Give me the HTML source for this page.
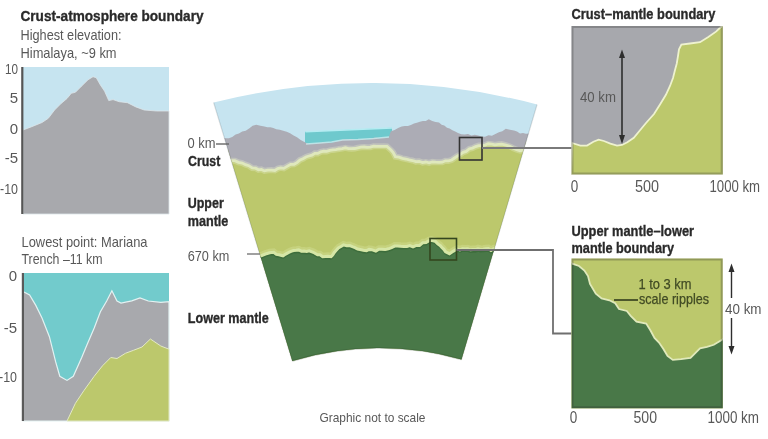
<!DOCTYPE html>
<html><head><meta charset="utf-8">
<style>
html,body{margin:0;padding:0;background:#fff;width:768px;height:439px;overflow:hidden}
svg{display:block;filter:blur(0.5px)}
text{font-family:"Liberation Sans",sans-serif}
.b{font-weight:bold;fill:#2a2a2a;stroke:#2a2a2a;stroke-width:0.35px}
.r{fill:#585858}
</style></head><body>
<svg width="768" height="439" viewBox="0 0 768 439">
<defs>
<clipPath id="wedge"><path d="M213.6,102.5 A650,650 0 0 1 537.1,104.5 L461.5,359.5 A300,300 0 0 0 292.3,361 Z"/></clipPath>
<clipPath id="trc"><rect x="571.5" y="26" width="151.2" height="148.5"/></clipPath>
<clipPath id="brc"><rect x="571.5" y="258.5" width="151.2" height="149.8"/></clipPath>
</defs>

<!-- ===== Top-left chart ===== -->
<text class="b" x="20.5" y="20.5" font-size="15" textLength="183" lengthAdjust="spacingAndGlyphs">Crust-atmosphere boundary</text>
<text class="r" x="20.5" y="39.5" font-size="15" textLength="101" lengthAdjust="spacingAndGlyphs">Highest elevation:</text>
<text class="r" x="20.5" y="57.5" font-size="15" textLength="96" lengthAdjust="spacingAndGlyphs">Himalaya, ~9 km</text>
<g class="r" font-size="15" text-anchor="end">
<text x="18" y="74" textLength="13" lengthAdjust="spacingAndGlyphs">10</text>
<text x="18" y="102.5">5</text>
<text x="18" y="133.5">0</text>
<text x="18" y="163">-5</text>
<text x="18" y="193.5" textLength="18" lengthAdjust="spacingAndGlyphs">-10</text>
</g>
<rect x="23" y="67" width="146" height="147" fill="#c6e4f0"/>
<path d="M23,130 L31.7,126.7 L42,122.5 L48.3,118.3 L54.6,110 L60.8,103.75 L67,98.5 L71.25,93.3 L75.4,92.3 L81.7,86 L88,79.8 L93,76.7 L96.25,77.7 L100.4,85 L104.6,91.25 L108.75,100.6 L113,99.6 L119.2,101.7 L127.5,102.7 L135.8,106.9 L144.2,110 L156.7,111 L169,111 L169,214 L23,214 Z" fill="#a8a9ad" stroke="#dde6ea" stroke-width="0.8"/>
<rect x="21.2" y="67" width="2.2" height="147" fill="#555"/>

<!-- ===== Bottom-left chart ===== -->
<text class="r" x="21.5" y="247" font-size="15" textLength="126" lengthAdjust="spacingAndGlyphs">Lowest point: Mariana</text>
<text class="r" x="21.5" y="263.5" font-size="15" textLength="81" lengthAdjust="spacingAndGlyphs">Trench –11 km</text>
<g class="r" font-size="15" text-anchor="end">
<text x="17" y="281.2">0</text>
<text x="17" y="333">-5</text>
<text x="17" y="381.5" textLength="18" lengthAdjust="spacingAndGlyphs">-10</text>
</g>
<rect x="23" y="273" width="146" height="148" fill="#72cbcc"/>
<path d="M23,291.5 L29.6,295 L35.8,305.4 L42,318 L49.4,336.7 L55.6,361.7 L59.8,376.25 L67,380.4 L73.3,376.25 L81.7,357.5 L86.9,345 L94.2,328 L100.4,311.7 L106.7,301 L111.9,290.8 L117,301 L121,303 L131.7,300.8 L140,298 L148.3,301 L160.8,302.3 L169,301.7 L169,421 L23,421 Z" fill="#a8a9ad" stroke="#e3f2f2" stroke-width="1.2"/>
<path d="M67,421 L75.4,403.3 L83.75,390.8 L94.2,376.25 L102.5,365.8 L110.8,357.5 L117,358.5 L125.4,353.3 L133.75,350.2 L142,347 L150.4,339 L160.8,346 L169,349.2 L169,421 Z" fill="#bcc86c" stroke="#e3e9c4" stroke-width="1"/>
<rect x="21.8" y="273" width="2.2" height="148" fill="#5a5a5a"/>

<!-- ===== Central wedge ===== -->
<g clip-path="url(#wedge)">
<rect x="200" y="70" width="350" height="300" fill="#c6e4f0"/>
<path d="M305,131.8 L392,127.8 L392,150 L305,150 Z" fill="#6ec9cd"/><path d="M305.5,131.8 L392,128" stroke="#b5ecf2" stroke-width="1.6"/>
<path d="M200,150 L550,140 L550,370 L200,370 Z" fill="#bcc86c"/>
<path d="M200.0,138.5 L203.2,138.4 L206.4,138.5 L209.6,139.0 L212.8,138.3 L216.1,138.3 L219.3,138.4 L222.5,137.7 L225.7,138.2 L228.9,138.3 L232.2,137.0 L235.6,134.6 L238.9,133.4 L242.2,131.6 L245.7,130.7 L249.1,128.5 L252.6,125.7 L256.3,124.7 L260.4,125.8 L264.4,126.5 L267.4,127.2 L270.4,127.3 L273.3,127.9 L276.3,129.3 L279.8,129.7 L283.2,130.8 L286.7,131.8 L290.1,133.3 L293.6,135.6 L297.0,137.3 L300.7,140.1 L304.4,141.9 L309.0,144.2 L312.7,143.7 L316.3,143.6 L320.0,142.9 L323.8,142.4 L327.7,143.0 L331.5,142.7 L335.2,141.8 L338.8,141.0 L342.5,139.7 L345.6,139.5 L348.7,139.5 L351.8,139.1 L354.9,140.0 L358.0,139.4 L361.1,139.8 L364.3,138.9 L367.4,139.5 L370.6,139.2 L373.8,137.8 L376.8,137.8 L379.9,138.5 L382.9,137.6 L385.9,138.0 L389.0,136.9 L390.0,133.4 L391.0,131.2 L394.6,130.1 L398.1,128.0 L401.7,126.4 L404.8,126.0 L407.9,126.1 L410.9,125.1 L414.0,123.5 L416.9,122.8 L419.9,121.8 L422.9,120.9 L425.8,121.1 L428.8,119.3 L432.2,120.9 L435.6,121.9 L439.0,122.6 L441.6,124.8 L444.3,125.5 L447.0,127.7 L449.6,128.5 L452.4,130.3 L455.2,131.5 L458.0,133.0 L461.3,134.3 L464.7,134.5 L468.0,134.1 L471.4,135.4 L474.8,134.8 L478.2,135.5 L481.6,136.6 L485.0,136.7 L488.5,135.2 L491.9,135.8 L495.4,134.0 L498.9,132.3 L502.3,131.2 L505.8,128.8 L509.9,129.7 L514.0,130.4 L517.0,131.6 L520.0,133.4 L523.0,133.1 L526.0,133.8 L529.0,133.6 L532.0,133.9 L535.0,134.8 L538.0,134.3 L541.0,134.6 L544.0,135.2 L547.0,134.4 L550.0,135.0 L550.0,151.0 L547.0,150.9 L544.0,150.8 L541.0,150.3 L538.0,150.8 L535.0,151.0 L532.0,150.8 L529.0,150.1 L526.0,149.5 L523.0,150.1 L520.0,150.7 L516.7,149.7 L513.3,148.2 L510.0,146.4 L505.9,145.1 L501.7,144.1 L498.4,144.3 L495.0,144.9 L491.7,144.2 L488.3,143.8 L485.0,145.1 L481.9,145.6 L478.8,145.6 L475.6,146.6 L472.5,148.1 L469.4,148.7 L466.2,151.4 L463.1,152.3 L460.0,154.6 L457.2,156.1 L454.5,158.0 L451.7,160.0 L448.5,160.9 L445.4,160.8 L442.2,162.2 L439.0,162.3 L435.7,162.2 L432.4,161.9 L429.1,162.8 L425.8,162.0 L422.5,162.6 L419.2,161.3 L415.8,161.6 L412.5,160.5 L409.1,159.9 L405.8,159.0 L402.3,158.4 L398.9,157.2 L395.4,156.7 L393.2,152.5 L391.0,150.0 L387.0,146.4 L383.5,146.3 L380.0,146.3 L376.8,146.3 L373.6,146.2 L370.4,147.2 L367.2,147.3 L364.0,147.0 L360.9,147.2 L357.9,147.8 L354.8,148.5 L351.7,148.7 L348.5,148.6 L345.4,147.8 L342.2,148.6 L339.0,149.0 L335.9,149.6 L332.9,149.9 L329.8,150.4 L326.7,151.4 L323.7,151.2 L320.8,151.8 L317.8,153.4 L314.8,153.3 L311.9,155.2 L308.9,156.0 L305.9,157.0 L303.0,158.7 L300.0,159.9 L297.0,162.6 L294.0,164.3 L290.6,164.4 L287.1,166.4 L283.7,168.4 L280.7,167.9 L277.8,168.6 L274.8,170.5 L271.3,170.1 L267.9,170.2 L264.4,170.9 L261.4,169.4 L258.5,169.8 L255.5,168.2 L252.2,168.0 L248.8,165.7 L245.5,164.7 L242.2,163.0 L238.5,162.3 L234.8,160.7 L231.6,160.7 L228.5,160.8 L225.3,160.9 L222.1,160.1 L219.0,160.2 L215.8,159.6 L212.7,159.7 L209.5,160.4 L206.3,160.3 L203.2,160.0 L200.0,160.0 Z" fill="#acacb5"/>
<path d="M306,144 L320,143 L331.5,142 L342.5,140 L358,139.5 L373.75,138.5 L389,137" fill="none" stroke="#d2eef0" stroke-width="1.4" opacity="0.75"/>
<path d="M200.0,160.0 L203.2,160.0 L206.3,160.3 L209.5,160.4 L212.7,159.7 L215.8,159.6 L219.0,160.2 L222.1,160.1 L225.3,160.9 L228.5,160.8 L231.6,160.7 L234.8,160.7 L238.5,162.3 L242.2,163.0 L245.5,164.7 L248.8,165.7 L252.2,168.0 L255.5,168.2 L258.5,169.8 L261.4,169.4 L264.4,170.9 L267.9,170.2 L271.3,170.1 L274.8,170.5 L277.8,168.6 L280.7,167.9 L283.7,168.4 L287.1,166.4 L290.6,164.4 L294.0,164.3 L297.0,162.6 L300.0,159.9 L303.0,158.7 L305.9,157.0 L308.9,156.0 L311.9,155.2 L314.8,153.3 L317.8,153.4 L320.8,151.8 L323.7,151.2 L326.7,151.4 L329.8,150.4 L332.9,149.9 L335.9,149.6 L339.0,149.0 L342.2,148.6 L345.4,147.8 L348.5,148.6 L351.7,148.7 L354.8,148.5 L357.9,147.8 L360.9,147.2 L364.0,147.0 L367.2,147.3 L370.4,147.2 L373.6,146.2 L376.8,146.3 L380.0,146.3 L383.5,146.3 L387.0,146.4 L391.0,150.0 L393.2,152.5 L395.4,156.7 L398.9,157.2 L402.3,158.4 L405.8,159.0 L409.1,159.9 L412.5,160.5 L415.8,161.6 L419.2,161.3 L422.5,162.6 L425.8,162.0 L429.1,162.8 L432.4,161.9 L435.7,162.2 L439.0,162.3 L442.2,162.2 L445.4,160.8 L448.5,160.9 L451.7,160.0 L454.5,158.0 L457.2,156.1 L460.0,154.6 L463.1,152.3 L466.2,151.4 L469.4,148.7 L472.5,148.1 L475.6,146.6 L478.8,145.6 L481.9,145.6 L485.0,145.1 L488.3,143.8 L491.7,144.2 L495.0,144.9 L498.4,144.3 L501.7,144.1 L505.9,145.1 L510.0,146.4 L513.3,148.2 L516.7,149.7 L520.0,150.7 L523.0,150.1 L526.0,149.5 L529.0,150.1 L532.0,150.8 L535.0,151.0 L538.0,150.8 L541.0,150.3 L544.0,150.8 L547.0,150.9 L550.0,151.0" fill="none" stroke="#e6ecc8" stroke-width="6" opacity="0.35"/>
<path d="M200.0,160.0 L203.2,160.0 L206.3,160.3 L209.5,160.4 L212.7,159.7 L215.8,159.6 L219.0,160.2 L222.1,160.1 L225.3,160.9 L228.5,160.8 L231.6,160.7 L234.8,160.7 L238.5,162.3 L242.2,163.0 L245.5,164.7 L248.8,165.7 L252.2,168.0 L255.5,168.2 L258.5,169.8 L261.4,169.4 L264.4,170.9 L267.9,170.2 L271.3,170.1 L274.8,170.5 L277.8,168.6 L280.7,167.9 L283.7,168.4 L287.1,166.4 L290.6,164.4 L294.0,164.3 L297.0,162.6 L300.0,159.9 L303.0,158.7 L305.9,157.0 L308.9,156.0 L311.9,155.2 L314.8,153.3 L317.8,153.4 L320.8,151.8 L323.7,151.2 L326.7,151.4 L329.8,150.4 L332.9,149.9 L335.9,149.6 L339.0,149.0 L342.2,148.6 L345.4,147.8 L348.5,148.6 L351.7,148.7 L354.8,148.5 L357.9,147.8 L360.9,147.2 L364.0,147.0 L367.2,147.3 L370.4,147.2 L373.6,146.2 L376.8,146.3 L380.0,146.3 L383.5,146.3 L387.0,146.4 L391.0,150.0 L393.2,152.5 L395.4,156.7 L398.9,157.2 L402.3,158.4 L405.8,159.0 L409.1,159.9 L412.5,160.5 L415.8,161.6 L419.2,161.3 L422.5,162.6 L425.8,162.0 L429.1,162.8 L432.4,161.9 L435.7,162.2 L439.0,162.3 L442.2,162.2 L445.4,160.8 L448.5,160.9 L451.7,160.0 L454.5,158.0 L457.2,156.1 L460.0,154.6 L463.1,152.3 L466.2,151.4 L469.4,148.7 L472.5,148.1 L475.6,146.6 L478.8,145.6 L481.9,145.6 L485.0,145.1 L488.3,143.8 L491.7,144.2 L495.0,144.9 L498.4,144.3 L501.7,144.1 L505.9,145.1 L510.0,146.4 L513.3,148.2 L516.7,149.7 L520.0,150.7 L523.0,150.1 L526.0,149.5 L529.0,150.1 L532.0,150.8 L535.0,151.0 L538.0,150.8 L541.0,150.3 L544.0,150.8 L547.0,150.9 L550.0,151.0" fill="none" stroke="#dfe8bd" stroke-width="2.8"/>
<path d="M200.0,255.5 L202.6,255.1 L205.1,255.8 L207.7,255.8 L210.2,256.1 L212.8,254.9 L215.3,255.0 L217.9,254.8 L220.4,254.9 L223.0,255.8 L225.5,254.8 L228.1,255.5 L230.6,254.9 L233.2,255.0 L235.7,255.3 L238.3,256.0 L240.8,255.6 L243.4,254.5 L245.9,254.9 L248.5,254.7 L251.0,256.0 L253.6,255.9 L256.1,255.9 L258.7,255.9 L261.2,255.7 L265.4,254.0 L269.6,252.7 L273.8,252.3 L276.4,254.4 L279.0,254.8 L283.0,255.8 L285.6,254.1 L288.3,252.6 L290.9,251.4 L293.5,250.5 L296.1,250.3 L298.7,249.9 L301.4,251.2 L304.0,251.1 L306.6,251.5 L309.2,250.9 L313.3,252.3 L317.5,254.7 L320.1,254.7 L322.7,256.7 L325.4,256.5 L328.0,256.3 L331.0,256.7 L332.6,255.1 L334.2,252.5 L336.2,250.2 L338.3,247.9 L340.9,246.5 L343.5,244.9 L346.6,245.8 L349.8,245.6 L352.4,246.7 L355.0,247.7 L357.6,249.0 L360.2,249.5 L363.4,250.3 L366.5,250.6 L369.1,249.4 L371.7,249.7 L375.8,251.1 L378.9,249.2 L382.0,249.2 L385.1,249.6 L388.3,248.8 L391.5,247.7 L394.6,246.1 L397.7,246.0 L400.8,246.3 L403.9,246.5 L406.9,246.5 L409.9,245.6 L413.0,246.9 L416.2,245.4 L419.5,245.4 L422.8,242.7 L426.0,242.5 L428.6,240.9 L431.2,240.2 L435.2,241.2 L437.8,243.9 L440.4,245.7 L442.1,247.7 L443.9,249.3 L445.6,251.9 L449.5,253.7 L453.4,251.1 L457.3,248.9 L459.9,249.8 L462.5,248.8 L465.1,249.0 L467.7,248.7 L470.3,249.8 L472.9,249.6 L475.4,249.6 L478.0,248.7 L480.6,249.4 L483.2,249.2 L485.8,248.8 L488.4,248.6 L491.0,250.4 L493.6,248.8 L496.1,249.1 L498.7,249.1 L501.3,249.7 L503.8,248.7 L506.4,249.4 L509.0,249.3 L511.5,250.1 L514.1,248.6 L516.7,249.2 L519.2,249.5 L521.8,250.3 L524.3,249.5 L526.9,249.5 L529.5,249.8 L532.0,249.1 L534.6,248.7 L537.2,249.5 L539.7,250.2 L542.3,249.9 L544.9,249.1 L547.4,249.8 L550.0,249.5 L550,370 L200,370 Z" fill="#497848"/>
<path d="M200.0,257.5 L202.6,257.1 L205.1,257.8 L207.7,257.8 L210.2,258.1 L212.8,256.9 L215.3,257.0 L217.9,256.8 L220.4,256.9 L223.0,257.8 L225.5,256.8 L228.1,257.5 L230.6,256.9 L233.2,257.0 L235.7,257.3 L238.3,258.0 L240.8,257.6 L243.4,256.5 L245.9,256.9 L248.5,256.7 L251.0,258.0 L253.6,257.9 L256.1,257.9 L258.7,257.9 L261.2,257.7 L265.4,256.0 L269.6,254.7 L273.8,254.3 L276.4,256.4 L279.0,256.8 L283.0,257.8 L285.6,256.1 L288.3,254.6 L290.9,253.4 L293.5,252.5 L296.1,252.3 L298.7,251.9 L301.4,253.2 L304.0,253.1 L306.6,253.5 L309.2,252.9 L313.3,254.3 L317.5,256.7 L320.1,256.7 L322.7,258.7 L325.4,258.5 L328.0,258.3 L331.0,258.7 L332.6,257.1 L334.2,254.5 L336.2,252.2 L338.3,249.9 L340.9,248.5 L343.5,246.9 L346.6,247.8 L349.8,247.6 L352.4,248.7 L355.0,249.7 L357.6,251.0 L360.2,251.5 L363.4,252.3 L366.5,252.6 L369.1,251.4 L371.7,251.7 L375.8,253.1 L378.9,251.2 L382.0,251.2 L385.1,251.6 L388.3,250.8 L391.5,249.7 L394.6,248.1 L397.7,248.0 L400.8,248.3 L403.9,248.5 L406.9,248.5 L409.9,247.6 L413.0,248.9 L416.2,247.4 L419.5,247.4 L422.8,244.7 L426.0,244.5 L428.6,242.9 L431.2,242.2 L435.2,243.2 L437.8,245.9 L440.4,247.7 L442.1,249.7 L443.9,251.3 L445.6,253.9 L449.5,255.7 L453.4,253.1 L457.3,250.9 L459.9,251.8 L462.5,250.8 L465.1,251.0 L467.7,250.7 L470.3,251.8 L472.9,251.6 L475.4,251.6 L478.0,250.7 L480.6,251.4 L483.2,251.2 L485.8,250.8 L488.4,250.6 L491.0,252.4 L493.6,250.8 L496.1,251.1 L498.7,251.1 L501.3,251.7 L503.8,250.7 L506.4,251.4 L509.0,251.3 L511.5,252.1 L514.1,250.6 L516.7,251.2 L519.2,251.5 L521.8,252.3 L524.3,251.5 L526.9,251.5 L529.5,251.8 L532.0,251.1 L534.6,250.7 L537.2,251.5 L539.7,252.2 L542.3,251.9 L544.9,251.1 L547.4,251.8 L550.0,251.5" fill="none" stroke="#3b6a3a" stroke-width="2.2" opacity="0.8"/>
<path d="M200.0,254.0 L202.6,253.6 L205.1,254.3 L207.7,254.3 L210.2,254.6 L212.8,253.4 L215.3,253.5 L217.9,253.3 L220.4,253.4 L223.0,254.3 L225.5,253.3 L228.1,254.0 L230.6,253.4 L233.2,253.5 L235.7,253.8 L238.3,254.5 L240.8,254.1 L243.4,253.0 L245.9,253.4 L248.5,253.2 L251.0,254.5 L253.6,254.4 L256.1,254.4 L258.7,254.4 L261.2,254.2 L265.4,252.5 L269.6,251.2 L273.8,250.8 L276.4,252.9 L279.0,253.3 L283.0,254.3 L285.6,252.6 L288.3,251.1 L290.9,249.9 L293.5,249.0 L296.1,248.8 L298.7,248.4 L301.4,249.7 L304.0,249.6 L306.6,250.0 L309.2,249.4 L313.3,250.8 L317.5,253.2 L320.1,253.2 L322.7,255.2 L325.4,255.0 L328.0,254.8 L331.0,255.2 L332.6,253.6 L334.2,251.0 L336.2,248.7 L338.3,246.4 L340.9,245.0 L343.5,243.4 L346.6,244.3 L349.8,244.1 L352.4,245.2 L355.0,246.2 L357.6,247.5 L360.2,248.0 L363.4,248.8 L366.5,249.1 L369.1,247.9 L371.7,248.2 L375.8,249.6 L378.9,247.7 L382.0,247.7 L385.1,248.1 L388.3,247.3 L391.5,246.2 L394.6,244.6 L397.7,244.5 L400.8,244.8 L403.9,245.0 L406.9,245.0 L409.9,244.1 L413.0,245.4 L416.2,243.9 L419.5,243.9 L422.8,241.2 L426.0,241.0 L428.6,239.4 L431.2,238.7 L435.2,239.7 L437.8,242.4 L440.4,244.2 L442.1,246.2 L443.9,247.8 L445.6,250.4 L449.5,252.2 L453.4,249.6 L457.3,247.4 L459.9,248.3 L462.5,247.3 L465.1,247.5 L467.7,247.2 L470.3,248.3 L472.9,248.1 L475.4,248.1 L478.0,247.2 L480.6,247.9 L483.2,247.7 L485.8,247.3 L488.4,247.1 L491.0,248.9 L493.6,247.3 L496.1,247.6 L498.7,247.6 L501.3,248.2 L503.8,247.2 L506.4,247.9 L509.0,247.8 L511.5,248.6 L514.1,247.1 L516.7,247.7 L519.2,248.0 L521.8,248.8 L524.3,248.0 L526.9,248.0 L529.5,248.3 L532.0,247.6 L534.6,247.2 L537.2,248.0 L539.7,248.7 L542.3,248.4 L544.9,247.6 L547.4,248.3 L550.0,248.0" fill="none" stroke="#d9e4a0" stroke-width="5" opacity="0.35"/>
<path d="M200.0,255.5 L202.6,255.1 L205.1,255.8 L207.7,255.8 L210.2,256.1 L212.8,254.9 L215.3,255.0 L217.9,254.8 L220.4,254.9 L223.0,255.8 L225.5,254.8 L228.1,255.5 L230.6,254.9 L233.2,255.0 L235.7,255.3 L238.3,256.0 L240.8,255.6 L243.4,254.5 L245.9,254.9 L248.5,254.7 L251.0,256.0 L253.6,255.9 L256.1,255.9 L258.7,255.9 L261.2,255.7 L265.4,254.0 L269.6,252.7 L273.8,252.3 L276.4,254.4 L279.0,254.8 L283.0,255.8 L285.6,254.1 L288.3,252.6 L290.9,251.4 L293.5,250.5 L296.1,250.3 L298.7,249.9 L301.4,251.2 L304.0,251.1 L306.6,251.5 L309.2,250.9 L313.3,252.3 L317.5,254.7 L320.1,254.7 L322.7,256.7 L325.4,256.5 L328.0,256.3 L331.0,256.7 L332.6,255.1 L334.2,252.5 L336.2,250.2 L338.3,247.9 L340.9,246.5 L343.5,244.9 L346.6,245.8 L349.8,245.6 L352.4,246.7 L355.0,247.7 L357.6,249.0 L360.2,249.5 L363.4,250.3 L366.5,250.6 L369.1,249.4 L371.7,249.7 L375.8,251.1 L378.9,249.2 L382.0,249.2 L385.1,249.6 L388.3,248.8 L391.5,247.7 L394.6,246.1 L397.7,246.0 L400.8,246.3 L403.9,246.5 L406.9,246.5 L409.9,245.6 L413.0,246.9 L416.2,245.4 L419.5,245.4 L422.8,242.7 L426.0,242.5 L428.6,240.9 L431.2,240.2 L435.2,241.2 L437.8,243.9 L440.4,245.7 L442.1,247.7 L443.9,249.3 L445.6,251.9 L449.5,253.7 L453.4,251.1 L457.3,248.9 L459.9,249.8 L462.5,248.8 L465.1,249.0 L467.7,248.7 L470.3,249.8 L472.9,249.6 L475.4,249.6 L478.0,248.7 L480.6,249.4 L483.2,249.2 L485.8,248.8 L488.4,248.6 L491.0,250.4 L493.6,248.8 L496.1,249.1 L498.7,249.1 L501.3,249.7 L503.8,248.7 L506.4,249.4 L509.0,249.3 L511.5,250.1 L514.1,248.6 L516.7,249.2 L519.2,249.5 L521.8,250.3 L524.3,249.5 L526.9,249.5 L529.5,249.8 L532.0,249.1 L534.6,248.7 L537.2,249.5 L539.7,250.2 L542.3,249.9 L544.9,249.1 L547.4,249.8 L550.0,249.5" fill="none" stroke="#d6e6a6" stroke-width="3"/>
</g>
<path d="M213.6,102.5 L292.3,361 M537.1,104.5 L461.5,359.5" stroke="#000" stroke-opacity="0.12" stroke-width="1.2" fill="none"/><path d="M461.5,359.5 A300,300 0 0 0 292.3,361" stroke="#1e3a1c" stroke-opacity="0.25" stroke-width="1.4" fill="none"/>
<!-- small boxes and connectors -->
<rect x="459.5" y="137.5" width="22.5" height="22.5" fill="none" stroke="#333" stroke-width="1.6"/>
<path d="M482,148 L572,148" stroke="#7a7a7a" stroke-width="2" fill="none"/>
<rect x="430" y="238.5" width="26.5" height="21.5" fill="none" stroke="#34461f" stroke-width="1.6"/>
<path d="M456.5,250 L553,250 L553,333.5 L572,333.5" stroke="#6f6f6f" stroke-width="1.8" fill="none"/>
<path d="M216,144 L229,144" stroke="#666" stroke-width="1.4"/>
<path d="M247,254 L260,254" stroke="#777" stroke-width="1.4"/>

<text class="r" x="187.5" y="147.8" font-size="15" textLength="28" lengthAdjust="spacingAndGlyphs">0 km</text>
<text class="b" x="188" y="165.5" font-size="15" textLength="32.3" lengthAdjust="spacingAndGlyphs">Crust</text>
<text class="b" x="187.75" y="208" font-size="15" textLength="36" lengthAdjust="spacingAndGlyphs">Upper</text>
<text class="b" x="187.75" y="225.7" font-size="15" textLength="40.6" lengthAdjust="spacingAndGlyphs">mantle</text>
<text class="r" x="187.75" y="260.6" font-size="15" textLength="41.6" lengthAdjust="spacingAndGlyphs">670 km</text>
<text class="b" x="187.8" y="323.2" font-size="15" textLength="81" lengthAdjust="spacingAndGlyphs">Lower mantle</text>
<text class="r" x="319.5" y="422" font-size="13.5" textLength="106" lengthAdjust="spacingAndGlyphs">Graphic not to scale</text>

<!-- ===== Top-right chart ===== -->
<text class="b" x="571.5" y="18.6" font-size="15" textLength="144" lengthAdjust="spacingAndGlyphs">Crust–mantle boundary</text>
<rect x="571.5" y="26" width="151.2" height="148.5" fill="#a7a8ad"/>
<g clip-path="url(#trc)">
<path d="M572,143 L580.4,145.6 L587,145.6 L593.4,141.7 L598.6,139.7 L603.9,141 L610.4,143.6 L617,145.6 L622,145 L627.3,142.3 L633.8,137.8 L639.6,130.7 L646,123 L654,114 L660,104.5 L665.9,94.8 L670,86 L673,78 L675,70 L676.7,63.7 L678,56 L679,49.4 L681.4,44.6 L690,43.5 L700,42.2 L708.3,37 L716.3,31.4 L719.7,28 L724,25 L724,175 L571,175 Z" fill="#bcc86c" stroke="#eef2cf" stroke-width="1.8"/>
</g>
<rect x="572.5" y="27" width="149.2" height="146.5" fill="none" stroke="#30302a" stroke-opacity="0.28" stroke-width="2"/>
<path d="M622,56 L622,137" stroke="#2e2e2e" stroke-width="1.6"/>
<path d="M619,58 L622,49.5 L625,58 Z M619,135 L622,144 L625,135 Z" fill="#2e2e2e"/>
<text class="r" x="580" y="101.8" font-size="15" textLength="36" lengthAdjust="spacingAndGlyphs">40 km</text>
<g class="r" font-size="16">
<text x="570.8" y="191.6" textLength="7.5" lengthAdjust="spacingAndGlyphs">0</text>
<text x="635" y="191.6" textLength="24" lengthAdjust="spacingAndGlyphs">500</text>
<text x="709.5" y="191.6" textLength="50.5" lengthAdjust="spacingAndGlyphs">1000 km</text>
</g>

<!-- ===== Bottom-right chart ===== -->
<text class="b" x="571.5" y="236.3" font-size="15" textLength="122.5" lengthAdjust="spacingAndGlyphs">Upper mantle–lower</text>
<text class="b" x="571.5" y="252.5" font-size="15" textLength="102.5" lengthAdjust="spacingAndGlyphs">mantle boundary</text>
<rect x="571.5" y="258.5" width="151.2" height="149.8" fill="#bcc86c"/>
<g clip-path="url(#brc)">
<path d="M571,263.2 L579,266 L584.4,270.5 L588,276 L590,283.9 L595.8,293.6 L601.6,298.4 L609.4,300.3 L615.2,303.3 L619,309 L626.8,311 L630.7,315.9 L636.5,321.7 L646.2,323.6 L650.5,330.5 L654.5,338 L659,342.5 L663.4,349 L667.5,356 L672.8,359.9 L681,359.2 L690.5,357.8 L696,352.35 L700,348.25 L707,346.9 L713.8,344.8 L719.2,341.4 L724,338.5 L724,409 L571,409 Z" fill="#497848" stroke="#e0e9bb" stroke-width="1.8"/>
</g>
<rect x="572.5" y="259.5" width="149.2" height="147.8" fill="none" stroke="#30302a" stroke-opacity="0.3" stroke-width="2"/>
<g fill="#414b24" stroke="#414b24" stroke-width="0.25">
<text x="638.5" y="288.5" font-size="15" textLength="53" lengthAdjust="spacingAndGlyphs">1 to 3 km</text>
<text x="639" y="304" font-size="15" textLength="70" lengthAdjust="spacingAndGlyphs">scale ripples</text>
</g>
<path d="M614,300 L638,300" stroke="#414b24" stroke-width="1.8"/>
<path d="M731.5,270 L731.5,298 M731.5,318 L731.5,348" stroke="#2e2e2e" stroke-width="1.4"/>
<path d="M728.5,272 L731.5,263.5 L734.5,272 Z M728.5,346 L731.5,354.5 L734.5,346 Z" fill="#2e2e2e"/>
<text class="r" x="725" y="313.5" font-size="15" textLength="36.5" lengthAdjust="spacingAndGlyphs">40 km</text>
<g class="r" font-size="16">
<text x="569.8" y="423.3" textLength="7.5" lengthAdjust="spacingAndGlyphs">0</text>
<text x="633.5" y="423.3" textLength="23.5" lengthAdjust="spacingAndGlyphs">500</text>
<text x="707.5" y="423.3" textLength="51.5" lengthAdjust="spacingAndGlyphs">1000 km</text>
</g>
</svg>
</body></html>
